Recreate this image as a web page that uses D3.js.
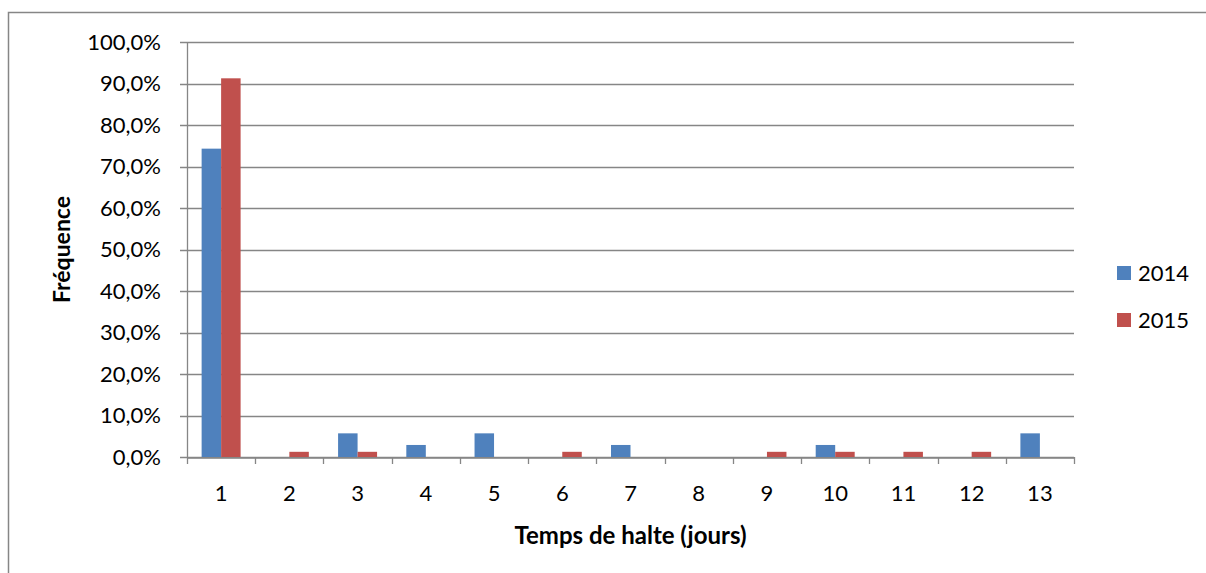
<!DOCTYPE html>
<html lang="fr">
<head>
<meta charset="UTF-8">
<title>Temps de halte</title>
<script src="https://cdn.jsdelivr.net/npm/d3@7"></script>
<style>
    body { margin: 0; background: #fff; }
    svg { display: block; font-family: Lato, "Open Sans", sans-serif; }
</style>
</head>
<body>
<svg id="chart" width="1206" height="573"></svg>
<script>
    // data
    const days = ["1", "2", "3", "4", "5", "6", "7", "8", "9", "10", "11", "12", "13"];
    const years = ["2014", "2015"];
    const values2014 = [74.3, 0, 5.7, 2.9, 5.7, 0, 2.9, 0, 0, 2.9, 0, 0, 5.7];
    const values2015 = [91.25, 1.25, 1.25, 0, 0, 1.25, 0, 0, 1.25, 1.25, 1.25, 1.25, 0];
    const yTicks = [0, 10, 20, 30, 40, 50, 60, 70, 80, 90, 100];
    const colors = ["#4F81BD", "#C0504D"];

    const svg = d3.select("#chart");
    const margin = { left: 187, right: 1074, top: 42, bottom: 457 };

    // outer chart border (only left and top show in the frame)
    svg.append("path")
        .attr("d", "M8.5,573 V12.5 H1206")
        .attr("fill", "none")
        .attr("stroke", "#868686")
        .attr("stroke-width", 1.5);

    const x = d3.scaleBand().domain(days).range([margin.left, margin.right]);
    const xInner = d3.scaleBand().domain(years)
        .range([0, x.bandwidth()])
        .paddingInner(0)
        .paddingOuter(0.75);
    const y = d3.scaleLinear().domain([0, 100]).range([margin.bottom, margin.top]);

    // gridlines
    svg.append("g")
        .selectAll("line")
        .data(yTicks)
        .join("line")
        .attr("x1", margin.left - 7)
        .attr("x2", margin.right)
        .attr("y1", d => Math.round(y(d)) + 0.5)
        .attr("y2", d => Math.round(y(d)) + 0.5)
        .attr("stroke", "#868686")
        .attr("stroke-width", 1.3);

    // y labels
    svg.append("g")
        .selectAll("text")
        .data(yTicks)
        .join("text")
        .attr("x", 161)
        .attr("y", d => y(d))
        .attr("dy", "0.36em")
        .attr("text-anchor", "end")
        .attr("font-size", 22)
        .attr("fill", "#000")
        .text(d => d3.format(".1f")(d).replace(".", ",") + "%");

    // bars
    const rows = days.map((d, i) => ({ day: d, vals: [values2014[i], values2015[i]] }));
    const groups = svg.append("g")
        .selectAll("g")
        .data(rows)
        .join("g")
        .attr("transform", d => `translate(${x(d.day)},0)`);

    groups.selectAll("rect")
        .data(d => d.vals.map((v, j) => ({ year: years[j], v: v, j: j })))
        .join("rect")
        .attr("x", d => xInner(d.year))
        .attr("width", xInner.bandwidth())
        .attr("y", d => y(d.v))
        .attr("height", d => y(0) - y(d.v))
        .attr("fill", d => colors[d.j]);

    // y axis line
    svg.append("line")
        .attr("x1", margin.left + 0.5).attr("x2", margin.left + 0.5)
        .attr("y1", margin.top).attr("y2", margin.bottom)
        .attr("stroke", "#868686").attr("stroke-width", 1.3);

    // x axis
    const xAxis = d3.axisBottom(x).tickSize(0).tickPadding(0);
    const gx = svg.append("g")
        .attr("transform", `translate(0,${Math.round(y(0)) + 0.5})`)
        .call(xAxis);
    gx.select(".domain").attr("stroke", "#868686").attr("stroke-width", 1.3);
    gx.selectAll(".tick text")
        .attr("y", 43)
        .attr("dy", 0)
        .attr("font-size", 22)
        .attr("font-family", "Lato, 'Open Sans', sans-serif")
        .attr("fill", "#000");

    // category separators
    const edges = days.map(d => x(d)).concat([margin.right]);
    svg.append("g")
        .selectAll("line")
        .data(edges)
        .join("line")
        .attr("x1", d => Math.round(d) + 0.5)
        .attr("x2", d => Math.round(d) + 0.5)
        .attr("y1", y(0))
        .attr("y2", y(0) + 7)
        .attr("stroke", "#868686")
        .attr("stroke-width", 1.3);

    // axis titles
    svg.append("text")
        .attr("x", (margin.left + margin.right) / 2)
        .attr("y", 544)
        .attr("text-anchor", "middle")
        .attr("font-size", 24)
        .attr("font-weight", "bold")
        .text("Temps de halte (jours)");

    svg.append("text")
        .attr("transform", `translate(70,${(margin.top + margin.bottom) / 2}) rotate(-90)`)
        .attr("text-anchor", "middle")
        .attr("font-size", 23)
        .attr("font-weight", "bold")
        .text("Fréquence");

    // legend
    const legend = svg.append("g")
        .selectAll("g")
        .data(years)
        .join("g")
        .attr("transform", (d, i) => `translate(1117,${266 + i * 47})`);
    legend.append("rect")
        .attr("width", 14).attr("height", 14)
        .attr("fill", (d, i) => colors[i]);
    legend.append("text")
        .attr("x", 21).attr("y", 7)
        .attr("dy", "0.36em")
        .attr("font-size", 22)
        .text(d => d);
</script>
</body>
</html>
